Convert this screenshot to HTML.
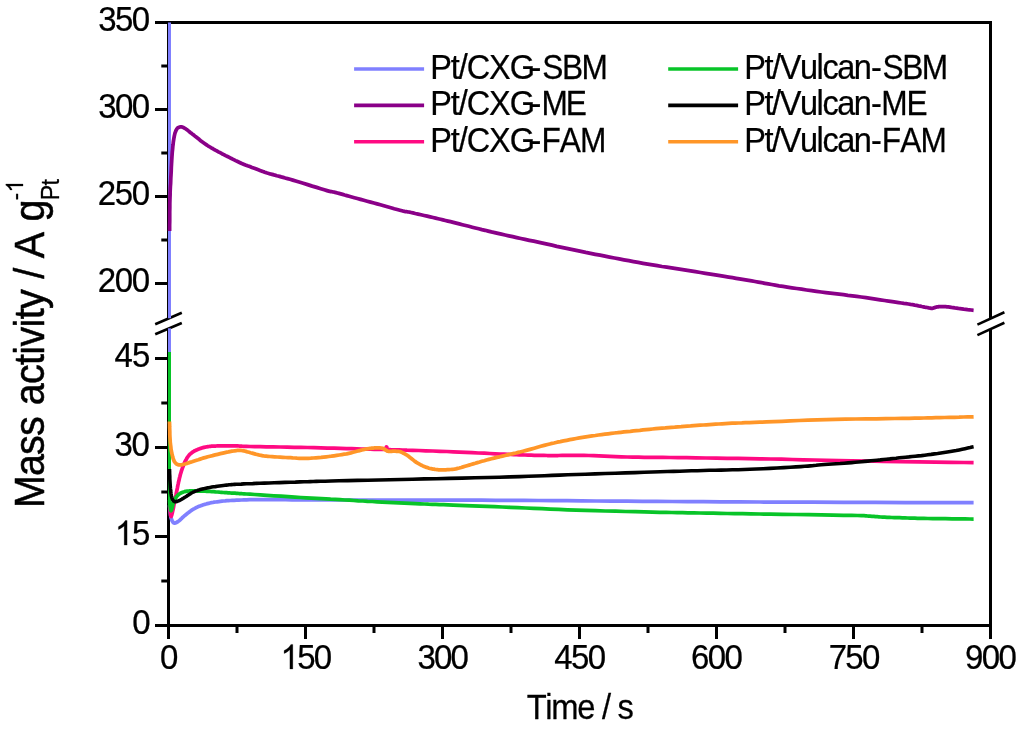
<!DOCTYPE html>
<html><head><meta charset="utf-8"><title>Chart</title>
<style>
html,body{margin:0;padding:0;background:#fff;}
body{width:1024px;height:732px;overflow:hidden;font-family:"Liberation Sans",sans-serif;}
svg{display:block;will-change:transform;}
</style></head><body>
<svg width="1024" height="732" viewBox="0 0 1024 732">
<rect x="0" y="0" width="1024" height="732" fill="#fff"/>
<line x1="155.00" y1="22.50" x2="992.00" y2="22.50" stroke="#000" stroke-width="3.00" stroke-linecap="butt"/>
<line x1="155.00" y1="625.50" x2="992.00" y2="625.50" stroke="#000" stroke-width="3.00" stroke-linecap="butt"/>
<line x1="168.50" y1="21.00" x2="168.50" y2="318.60" stroke="#000" stroke-width="3.00" stroke-linecap="butt"/>
<line x1="168.50" y1="328.40" x2="168.50" y2="639.00" stroke="#000" stroke-width="3.00" stroke-linecap="butt"/>
<line x1="990.50" y1="21.00" x2="990.50" y2="318.80" stroke="#000" stroke-width="3.00" stroke-linecap="butt"/>
<line x1="990.50" y1="328.90" x2="990.50" y2="639.00" stroke="#000" stroke-width="3.00" stroke-linecap="butt"/>
<line x1="155.00" y1="109.50" x2="168.50" y2="109.50" stroke="#000" stroke-width="3.00" stroke-linecap="butt"/>
<line x1="155.00" y1="196.50" x2="168.50" y2="196.50" stroke="#000" stroke-width="3.00" stroke-linecap="butt"/>
<line x1="155.00" y1="283.50" x2="168.50" y2="283.50" stroke="#000" stroke-width="3.00" stroke-linecap="butt"/>
<line x1="155.00" y1="358.50" x2="168.50" y2="358.50" stroke="#000" stroke-width="3.00" stroke-linecap="butt"/>
<line x1="155.00" y1="447.50" x2="168.50" y2="447.50" stroke="#000" stroke-width="3.00" stroke-linecap="butt"/>
<line x1="155.00" y1="536.50" x2="168.50" y2="536.50" stroke="#000" stroke-width="3.00" stroke-linecap="butt"/>
<line x1="161.30" y1="66.00" x2="168.50" y2="66.00" stroke="#000" stroke-width="3.00" stroke-linecap="butt"/>
<line x1="161.30" y1="153.00" x2="168.50" y2="153.00" stroke="#000" stroke-width="3.00" stroke-linecap="butt"/>
<line x1="161.30" y1="240.00" x2="168.50" y2="240.00" stroke="#000" stroke-width="3.00" stroke-linecap="butt"/>
<line x1="161.30" y1="403.00" x2="168.50" y2="403.00" stroke="#000" stroke-width="3.00" stroke-linecap="butt"/>
<line x1="161.30" y1="492.00" x2="168.50" y2="492.00" stroke="#000" stroke-width="3.00" stroke-linecap="butt"/>
<line x1="161.30" y1="581.00" x2="168.50" y2="581.00" stroke="#000" stroke-width="3.00" stroke-linecap="butt"/>
<line x1="305.50" y1="625.50" x2="305.50" y2="639.00" stroke="#000" stroke-width="3.00" stroke-linecap="butt"/>
<line x1="442.50" y1="625.50" x2="442.50" y2="639.00" stroke="#000" stroke-width="3.00" stroke-linecap="butt"/>
<line x1="579.50" y1="625.50" x2="579.50" y2="639.00" stroke="#000" stroke-width="3.00" stroke-linecap="butt"/>
<line x1="716.50" y1="625.50" x2="716.50" y2="639.00" stroke="#000" stroke-width="3.00" stroke-linecap="butt"/>
<line x1="853.50" y1="625.50" x2="853.50" y2="639.00" stroke="#000" stroke-width="3.00" stroke-linecap="butt"/>
<line x1="237.00" y1="625.50" x2="237.00" y2="633.00" stroke="#000" stroke-width="3.00" stroke-linecap="butt"/>
<line x1="374.00" y1="625.50" x2="374.00" y2="633.00" stroke="#000" stroke-width="3.00" stroke-linecap="butt"/>
<line x1="511.00" y1="625.50" x2="511.00" y2="633.00" stroke="#000" stroke-width="3.00" stroke-linecap="butt"/>
<line x1="648.00" y1="625.50" x2="648.00" y2="633.00" stroke="#000" stroke-width="3.00" stroke-linecap="butt"/>
<line x1="785.00" y1="625.50" x2="785.00" y2="633.00" stroke="#000" stroke-width="3.00" stroke-linecap="butt"/>
<line x1="922.00" y1="625.50" x2="922.00" y2="633.00" stroke="#000" stroke-width="3.00" stroke-linecap="butt"/>
<line x1="155.20" y1="324.20" x2="181.80" y2="312.80" stroke="#000" stroke-width="2.60" stroke-linecap="butt"/>
<line x1="155.20" y1="334.20" x2="181.80" y2="323.00" stroke="#000" stroke-width="2.60" stroke-linecap="butt"/>
<line x1="977.40" y1="324.60" x2="1004.40" y2="312.20" stroke="#000" stroke-width="2.60" stroke-linecap="butt"/>
<line x1="977.40" y1="335.10" x2="1004.40" y2="322.80" stroke="#000" stroke-width="2.60" stroke-linecap="butt"/>
<path d="M169.5,22.5 L169.5,318.3" fill="none" stroke="#8080ff" stroke-width="3.00" stroke-linejoin="round" stroke-linecap="butt"/>
<path d="M169.5,328.3 L169.5,506" fill="none" stroke="#8080ff" stroke-width="3.00" stroke-linejoin="round" stroke-linecap="butt"/>
<path d="M169.6,505.0 L169.7,505.6 L169.7,506.5 L169.8,507.5 L169.9,508.6 L170.0,509.8 L170.1,510.9 L170.2,512.0 L170.3,513.0 L170.4,513.9 L170.5,514.8 L170.6,515.6 L170.8,516.4 L170.9,517.2 L171.1,517.9 L171.3,518.6 L171.5,519.3 L171.8,519.9 L172.0,520.6 L172.3,521.2 L172.7,521.7 L173.0,522.2 L173.4,522.6 L173.8,522.9 L174.3,523.1 L174.8,523.1 L175.3,523.0 L175.9,522.8 L176.5,522.5 L177.1,522.1 L177.8,521.6 L178.4,521.2 L179.1,520.7 L179.8,520.2 L180.4,519.6 L181.1,518.9 L181.8,518.3 L182.5,517.5 L183.3,516.8 L184.1,516.1 L184.9,515.4 L185.8,514.7 L186.7,514.0 L187.6,513.2 L188.6,512.5 L189.6,511.7 L190.6,511.0 L191.5,510.3 L192.5,509.7 L193.4,509.1 L194.4,508.6 L195.3,508.1 L196.2,507.6 L197.2,507.2 L198.1,506.7 L199.1,506.3 L200.2,505.9 L201.3,505.5 L202.5,505.1 L203.6,504.7 L204.8,504.3 L206.1,504.0 L207.3,503.6 L208.7,503.3 L210.0,503.0 L211.4,502.7 L212.8,502.5 L214.2,502.2 L215.7,502.0 L217.2,501.8 L218.8,501.6 L220.4,501.4 L222.0,501.2 L223.6,501.0 L225.2,500.9 L226.9,500.7 L228.5,500.6 L230.3,500.5 L232.2,500.4 L234.2,500.3 L236.5,500.2 L238.9,500.1 L241.4,500.0 L243.9,499.9 L246.7,499.8 L249.6,499.7 L252.8,499.7 L256.2,499.6 L260.0,499.6 L263.8,499.6 L267.4,499.6 L271.2,499.6 L275.2,499.6 L279.9,499.7 L285.4,499.7 L292.0,499.8 L300.0,499.8 L309.6,499.8 L320.5,499.9 L332.7,499.9 L345.6,500.0 L359.1,500.1 L372.9,500.1 L386.6,500.2 L400.0,500.2 L413.2,500.2 L426.6,500.2 L440.2,500.2 L453.9,500.2 L467.8,500.2 L481.8,500.2 L495.8,500.3 L510.0,500.3 L524.2,500.4 L538.4,500.5 L552.7,500.6 L567.1,500.7 L581.6,500.8 L596.5,501.0 L611.6,501.1 L627.0,501.2 L642.3,501.3 L657.2,501.4 L672.2,501.5 L687.5,501.6 L703.5,501.7 L720.7,501.8 L739.4,501.9 L760.0,502.0 L784.3,502.1 L812.7,502.2 L843.6,502.3 L875.1,502.4 L905.6,502.5 L933.3,502.6 L956.6,502.6 L973.6,502.7" fill="none" stroke="#8080ff" stroke-width="3.75" stroke-linejoin="round" stroke-linecap="butt"/>
<path d="M169.6,231.0 L169.6,228.5 L169.6,225.1 L169.7,221.1 L169.7,216.7 L169.7,212.1 L169.8,207.6 L169.8,203.5 L169.9,200.0 L170.0,197.1 L170.1,194.6 L170.1,192.3 L170.2,190.2 L170.3,188.2 L170.4,186.0 L170.6,183.7 L170.7,181.0 L170.8,178.0 L171.0,174.7 L171.2,171.2 L171.3,167.6 L171.5,164.1 L171.7,160.6 L171.9,157.4 L172.1,154.4 L172.3,151.7 L172.6,149.1 L172.8,146.6 L173.1,144.3 L173.3,142.1 L173.6,140.1 L173.9,138.3 L174.2,136.6 L174.5,135.1 L174.8,133.8 L175.1,132.7 L175.5,131.8 L175.8,130.9 L176.2,130.2 L176.5,129.5 L176.9,128.9 L177.3,128.4 L177.7,127.9 L178.2,127.6 L178.6,127.4 L179.1,127.2 L179.5,127.1 L180.0,127.0 L180.4,126.9 L180.8,126.9 L181.2,126.9 L181.6,126.9 L182.0,127.0 L182.4,127.1 L182.7,127.3 L183.1,127.4 L183.5,127.6 L183.8,127.7 L184.1,127.9 L184.4,128.0 L184.7,128.2 L185.0,128.4 L185.4,128.6 L185.9,129.0 L186.6,129.5 L187.4,130.1 L188.4,130.9 L189.4,131.7 L190.6,132.7 L191.8,133.6 L193.0,134.6 L194.3,135.6 L195.5,136.6 L196.8,137.6 L198.1,138.6 L199.4,139.6 L200.7,140.7 L202.1,141.7 L203.5,142.7 L204.9,143.7 L206.2,144.6 L207.5,145.5 L208.8,146.3 L210.0,147.0 L211.3,147.8 L212.6,148.5 L213.9,149.3 L215.3,150.1 L216.8,150.9 L218.4,151.8 L220.1,152.7 L221.9,153.7 L223.8,154.6 L225.6,155.6 L227.5,156.5 L229.3,157.4 L231.0,158.3 L232.6,159.1 L234.2,159.9 L235.6,160.6 L237.1,161.3 L238.6,162.0 L240.1,162.7 L241.8,163.5 L243.5,164.2 L245.4,165.0 L247.5,165.8 L249.8,166.6 L252.0,167.5 L254.3,168.3 L256.4,169.1 L258.3,169.8 L260.0,170.4 L261.4,170.9 L262.7,171.4 L263.8,171.8 L264.7,172.2 L265.6,172.5 L266.4,172.8 L267.2,173.0 L268.0,173.3 L268.8,173.5 L269.4,173.7 L270.1,173.9 L270.6,174.0 L271.2,174.2 L271.7,174.3 L272.3,174.4 L272.9,174.6 L273.4,174.7 L273.9,174.9 L274.2,175.0 L274.6,175.1 L275.2,175.2 L275.8,175.4 L276.8,175.7 L278.0,176.0 L279.5,176.4 L281.2,176.9 L283.1,177.4 L285.2,178.0 L287.5,178.6 L290.0,179.3 L292.8,180.1 L295.7,181.0 L299.1,182.0 L303.2,183.3 L307.6,184.6 L312.2,186.1 L316.6,187.4 L320.8,188.7 L324.3,189.8 L327.0,190.6 L328.8,191.1 L330.0,191.5 L330.6,191.6 L330.8,191.6 L330.8,191.6 L330.8,191.6 L330.9,191.5 L331.3,191.6 L331.8,191.7 L332.2,191.8 L332.5,191.8 L332.9,191.9 L333.4,192.0 L334.0,192.1 L334.9,192.3 L336.0,192.6 L337.4,193.0 L338.9,193.4 L340.7,193.9 L342.6,194.4 L344.6,195.0 L346.8,195.6 L349.2,196.3 L351.7,197.0 L354.4,197.7 L357.4,198.5 L360.5,199.4 L363.8,200.3 L367.2,201.2 L370.6,202.1 L373.9,203.0 L377.1,203.9 L380.4,204.8 L383.8,205.8 L387.4,206.8 L390.9,207.7 L394.2,208.7 L397.2,209.5 L399.9,210.2 L402.0,210.8 L403.5,211.2 L404.5,211.4 L405.1,211.5 L405.4,211.6 L405.6,211.6 L405.7,211.5 L405.9,211.5 L406.3,211.6 L406.8,211.7 L407.0,211.7 L407.3,211.8 L407.5,211.8 L408.0,211.9 L408.6,212.0 L409.6,212.2 L411.0,212.5 L412.9,212.9 L415.3,213.5 L418.1,214.1 L421.0,214.8 L424.1,215.5 L427.2,216.2 L430.2,216.9 L433.0,217.5 L435.6,218.1 L438.1,218.7 L440.5,219.3 L442.9,219.9 L445.4,220.5 L447.9,221.1 L450.5,221.7 L453.3,222.4 L456.2,223.1 L459.3,223.9 L462.4,224.7 L465.6,225.5 L468.9,226.3 L472.2,227.2 L475.4,228.0 L478.7,228.8 L481.9,229.6 L485.1,230.3 L488.2,231.1 L491.4,231.9 L494.6,232.6 L497.9,233.4 L501.4,234.2 L505.0,235.0 L508.8,235.8 L512.7,236.7 L516.7,237.6 L520.8,238.5 L525.0,239.4 L529.3,240.3 L533.7,241.2 L538.1,242.2 L542.6,243.2 L547.3,244.2 L552.0,245.2 L556.8,246.3 L561.7,247.3 L566.6,248.4 L571.4,249.4 L576.2,250.4 L581.0,251.4 L585.7,252.4 L590.5,253.3 L595.3,254.3 L600.1,255.2 L604.9,256.2 L609.6,257.1 L614.4,258.0 L619.2,258.9 L623.9,259.8 L628.7,260.7 L633.5,261.6 L638.2,262.4 L643.0,263.3 L647.7,264.1 L652.5,264.9 L657.3,265.7 L662.0,266.5 L666.8,267.2 L671.5,267.9 L676.3,268.7 L681.1,269.4 L685.8,270.1 L690.6,270.9 L695.4,271.7 L700.4,272.5 L705.4,273.3 L710.4,274.1 L715.3,274.9 L720.0,275.7 L724.5,276.4 L728.7,277.1 L732.5,277.7 L736.1,278.3 L739.4,278.9 L742.5,279.4 L745.5,279.9 L748.6,280.4 L751.7,280.9 L755.0,281.5 L758.3,282.1 L761.6,282.7 L764.9,283.3 L768.3,283.9 L771.7,284.5 L775.2,285.1 L779.0,285.8 L783.0,286.4 L787.3,287.1 L791.9,287.8 L796.7,288.5 L801.6,289.2 L806.6,290.0 L811.6,290.7 L816.5,291.4 L821.2,292.0 L825.8,292.6 L830.3,293.2 L834.7,293.7 L839.1,294.2 L843.5,294.7 L847.9,295.3 L852.3,295.8 L856.7,296.4 L861.2,297.0 L866.0,297.7 L870.7,298.4 L875.5,299.1 L880.1,299.8 L884.5,300.5 L888.6,301.1 L892.3,301.7 L895.6,302.2 L898.6,302.6 L901.3,303.0 L903.8,303.4 L906.2,303.7 L908.4,304.0 L910.5,304.4 L912.6,304.7 L914.7,305.1 L916.6,305.4 L918.5,305.8 L920.2,306.1 L921.8,306.5 L923.4,306.8 L924.7,307.1 L926.0,307.3 L927.1,307.5 L928.0,307.7 L928.8,307.9 L929.4,308.0 L930.0,308.1 L930.6,308.2 L931.1,308.3 L931.7,308.3 L932.3,308.3 L932.9,308.2 L933.5,308.0 L934.0,307.8 L934.5,307.7 L935.0,307.5 L935.5,307.3 L936.0,307.2 L936.4,307.1 L936.8,307.0 L937.1,306.9 L937.4,306.9 L937.8,306.8 L938.2,306.8 L938.7,306.7 L939.3,306.7 L940.0,306.7 L940.8,306.6 L941.6,306.6 L942.5,306.6 L943.5,306.6 L944.5,306.6 L945.7,306.7 L946.9,306.8 L948.3,306.9 L949.8,307.1 L951.4,307.4 L953.1,307.6 L954.8,307.9 L956.6,308.1 L958.3,308.4 L960.0,308.6 L961.8,308.8 L963.7,309.1 L965.7,309.3 L967.6,309.6 L969.5,309.8 L971.1,310.0 L972.5,310.2 L973.6,310.3" fill="none" stroke="#8a0088" stroke-width="3.75" stroke-linejoin="round" stroke-linecap="butt"/>
<path d="M170.0,504.0 L170.0,504.6 L170.1,505.5 L170.1,506.6 L170.2,507.7 L170.2,508.9 L170.3,510.1 L170.3,511.1 L170.4,512.0 L170.5,512.8 L170.5,513.5 L170.6,514.2 L170.7,514.8 L170.7,515.4 L170.8,515.9 L170.9,516.2 L171.0,516.4 L171.1,516.5 L171.2,516.4 L171.3,516.2 L171.4,515.9 L171.6,515.5 L171.7,515.0 L171.9,514.5 L172.0,514.0 L172.2,513.4 L172.3,512.8 L172.5,512.1 L172.6,511.4 L172.8,510.5 L173.0,509.7 L173.2,508.8 L173.4,507.8 L173.6,506.8 L173.8,505.7 L174.0,504.7 L174.3,503.5 L174.5,502.3 L174.7,501.0 L175.0,499.6 L175.3,498.2 L175.6,496.6 L176.0,494.9 L176.3,493.1 L176.7,491.2 L177.1,489.3 L177.5,487.4 L177.8,485.6 L178.2,483.9 L178.5,482.3 L178.9,480.8 L179.2,479.3 L179.5,477.9 L179.9,476.5 L180.2,475.1 L180.6,473.8 L181.0,472.4 L181.4,471.0 L181.9,469.6 L182.4,468.2 L182.9,466.8 L183.4,465.5 L183.9,464.2 L184.4,463.0 L184.9,461.9 L185.4,460.9 L185.9,460.0 L186.4,459.1 L186.8,458.3 L187.3,457.5 L187.8,456.8 L188.2,456.2 L188.7,455.6 L189.1,455.1 L189.6,454.6 L190.0,454.2 L190.4,453.8 L190.9,453.5 L191.2,453.2 L191.6,452.9 L192.0,452.6 L192.3,452.3 L192.6,452.1 L192.9,451.9 L193.2,451.7 L193.4,451.5 L193.7,451.4 L194.0,451.2 L194.4,451.0 L194.8,450.8 L195.2,450.6 L195.7,450.4 L196.2,450.1 L196.7,449.9 L197.2,449.7 L197.7,449.5 L198.2,449.3 L198.7,449.1 L199.1,448.9 L199.6,448.7 L200.1,448.6 L200.6,448.4 L201.1,448.2 L201.6,448.1 L202.1,447.9 L202.7,447.7 L203.2,447.6 L203.8,447.4 L204.4,447.3 L205.0,447.2 L205.6,447.0 L206.3,446.9 L207.0,446.8 L207.7,446.7 L208.4,446.6 L209.1,446.5 L209.8,446.4 L210.6,446.3 L211.5,446.2 L212.4,446.2 L213.5,446.1 L214.7,446.0 L216.0,446.0 L217.4,445.9 L218.9,445.9 L220.5,445.9 L222.0,445.8 L223.5,445.8 L225.0,445.8 L226.4,445.8 L227.8,445.8 L229.2,445.8 L230.6,445.8 L232.0,445.8 L233.5,445.8 L235.0,445.9 L236.5,445.9 L237.8,445.9 L238.9,446.0 L239.8,446.1 L240.8,446.1 L242.1,446.2 L244.0,446.3 L246.5,446.4 L250.0,446.5 L254.6,446.6 L260.1,446.7 L266.3,446.8 L273.1,446.9 L280.1,447.0 L287.2,447.1 L294.2,447.3 L300.8,447.4 L307.3,447.5 L314.0,447.7 L320.7,447.9 L327.5,448.1 L334.0,448.2 L340.4,448.4 L346.3,448.6 L351.7,448.7 L356.7,448.8 L361.6,449.0 L366.1,449.1 L370.4,449.2 L374.2,449.3 L377.7,449.3 L380.6,449.4 L383.0,449.4 L384.7,449.4 L385.7,449.3 L386.1,449.2 L386.1,449.1 L385.9,449.0 L385.7,448.9 L385.5,448.8 L385.5,448.6 L385.7,448.4 L385.9,448.2 L386.0,447.9 L386.1,447.6 L386.2,447.3 L386.3,447.1 L386.4,446.9 L386.5,446.9 L386.6,447.0 L386.7,447.1 L386.8,447.4 L386.9,447.7 L387.0,448.0 L387.1,448.3 L387.3,448.6 L387.5,448.8 L387.7,449.0 L387.8,449.1 L387.9,449.2 L388.0,449.4 L388.3,449.5 L388.6,449.5 L389.2,449.6 L390.0,449.7 L390.8,449.8 L391.5,449.8 L392.3,449.8 L393.2,449.8 L394.6,449.8 L396.4,449.8 L399.0,449.9 L402.5,450.0 L407.0,450.2 L412.6,450.3 L418.9,450.5 L425.8,450.8 L432.9,451.0 L440.0,451.3 L446.9,451.5 L453.3,451.8 L459.5,452.1 L465.8,452.4 L472.1,452.6 L478.3,453.0 L484.3,453.2 L489.9,453.5 L495.2,453.8 L500.0,454.0 L504.2,454.2 L507.8,454.3 L510.9,454.5 L513.8,454.6 L516.5,454.7 L519.2,454.8 L522.0,454.9 L525.0,455.0 L528.1,455.1 L531.2,455.2 L534.3,455.3 L537.4,455.3 L540.6,455.4 L543.8,455.4 L547.2,455.5 L550.8,455.5 L554.5,455.5 L558.3,455.5 L562.2,455.4 L566.3,455.4 L570.4,455.3 L574.7,455.3 L579.2,455.3 L583.9,455.4 L588.8,455.5 L593.8,455.7 L599.0,455.9 L604.4,456.2 L609.9,456.4 L615.5,456.6 L621.3,456.8 L627.1,457.0 L632.9,457.1 L638.5,457.2 L644.2,457.3 L650.1,457.3 L656.2,457.4 L662.8,457.4 L670.0,457.5 L677.9,457.6 L686.6,457.7 L696.0,457.8 L706.0,458.0 L716.4,458.1 L727.1,458.3 L738.1,458.4 L749.1,458.6 L760.0,458.8 L770.8,459.0 L781.5,459.2 L792.4,459.5 L803.4,459.8 L814.7,460.0 L826.4,460.3 L838.7,460.6 L851.7,460.8 L866.3,461.0 L882.9,461.3 L900.6,461.6 L918.4,461.8 L935.5,462.1 L951.0,462.3 L964.0,462.5 L973.6,462.6" fill="none" stroke="#ff0a82" stroke-width="3.75" stroke-linejoin="round" stroke-linecap="butt"/>
<path d="M169.5,352 L169.5,503" fill="none" stroke="#08c428" stroke-width="3.00" stroke-linejoin="round" stroke-linecap="butt"/>
<path d="M169.6,500.0 L169.6,500.6 L169.7,501.3 L169.7,502.3 L169.8,503.3 L169.9,504.3 L170.0,505.3 L170.1,506.2 L170.2,507.0 L170.3,507.7 L170.4,508.3 L170.5,509.0 L170.6,509.5 L170.7,510.0 L170.8,510.4 L170.9,510.6 L171.0,510.7 L171.1,510.6 L171.3,510.4 L171.4,510.0 L171.6,509.5 L171.7,508.9 L171.9,508.3 L172.1,507.7 L172.3,507.0 L172.5,506.3 L172.7,505.5 L172.9,504.6 L173.1,503.7 L173.4,502.8 L173.7,501.9 L174.0,501.0 L174.3,500.2 L174.7,499.4 L175.1,498.7 L175.6,498.0 L176.1,497.3 L176.6,496.6 L177.1,496.0 L177.7,495.4 L178.2,494.9 L178.7,494.4 L179.3,494.0 L179.9,493.6 L180.4,493.3 L181.0,493.0 L181.6,492.7 L182.3,492.4 L182.9,492.2 L183.5,492.0 L184.2,491.8 L184.8,491.6 L185.5,491.4 L186.2,491.3 L187.0,491.2 L187.8,491.1 L188.7,491.0 L189.7,490.9 L190.8,490.9 L191.9,490.9 L193.1,490.9 L194.3,490.9 L195.6,490.9 L196.9,491.0 L198.2,491.0 L199.5,491.0 L200.9,491.1 L202.3,491.1 L203.8,491.2 L205.2,491.2 L206.8,491.3 L208.4,491.4 L210.0,491.5 L211.7,491.6 L213.6,491.7 L215.5,491.9 L217.5,492.0 L219.5,492.2 L221.4,492.3 L223.3,492.5 L225.0,492.6 L226.6,492.7 L228.1,492.8 L229.5,492.9 L230.8,493.0 L232.2,493.0 L233.6,493.1 L235.0,493.2 L236.5,493.3 L237.8,493.4 L238.9,493.5 L239.8,493.5 L240.8,493.6 L242.1,493.7 L244.0,493.8 L246.5,494.0 L250.0,494.2 L254.6,494.5 L260.3,494.9 L266.8,495.3 L273.8,495.8 L281.0,496.2 L288.0,496.7 L294.8,497.1 L300.8,497.5 L306.3,497.8 L311.5,498.1 L316.4,498.4 L321.3,498.7 L326.0,498.9 L330.6,499.2 L335.3,499.4 L340.0,499.7 L344.7,500.0 L349.3,500.2 L353.8,500.5 L358.3,500.8 L362.9,501.0 L367.5,501.3 L372.2,501.5 L377.1,501.8 L382.3,502.1 L387.6,502.3 L393.2,502.6 L398.8,502.9 L404.4,503.1 L409.8,503.4 L415.1,503.6 L420.0,503.8 L424.5,504.0 L428.5,504.2 L432.2,504.3 L435.8,504.4 L439.5,504.6 L443.6,504.7 L448.1,504.9 L453.3,505.1 L459.2,505.3 L465.6,505.6 L472.4,505.8 L479.6,506.1 L487.0,506.4 L494.6,506.7 L502.3,507.0 L510.0,507.3 L517.8,507.6 L525.6,508.0 L533.7,508.3 L541.9,508.7 L550.2,509.1 L558.7,509.4 L567.4,509.8 L576.2,510.1 L585.5,510.4 L595.2,510.7 L605.3,511.0 L615.5,511.2 L625.6,511.5 L635.2,511.7 L644.3,511.9 L652.5,512.1 L659.7,512.3 L666.1,512.4 L671.9,512.5 L677.3,512.6 L682.5,512.7 L687.9,512.8 L693.7,512.9 L700.0,513.0 L706.7,513.1 L713.4,513.2 L720.2,513.4 L727.2,513.5 L734.6,513.6 L742.5,513.7 L750.9,513.9 L760.0,514.0 L770.4,514.2 L782.4,514.3 L795.3,514.5 L808.5,514.7 L821.3,514.9 L833.2,515.1 L843.5,515.3 L851.7,515.4 L857.5,515.5 L861.5,515.6 L864.1,515.7 L865.7,515.8 L866.6,515.9 L867.4,516.0 L868.4,516.1 L870.0,516.2 L872.0,516.3 L873.8,516.4 L875.5,516.6 L877.2,516.7 L878.9,516.8 L880.7,517.0 L882.6,517.1 L884.7,517.2 L887.0,517.3 L889.3,517.4 L891.8,517.5 L894.3,517.6 L897.0,517.7 L899.6,517.7 L902.3,517.8 L905.0,517.9 L907.6,518.0 L910.0,518.1 L912.4,518.1 L914.9,518.2 L917.5,518.3 L920.5,518.4 L923.9,518.4 L927.9,518.5 L932.8,518.6 L938.8,518.6 L945.4,518.7 L952.2,518.8 L958.8,518.9 L964.9,518.9 L969.9,519.0 L973.6,519.0" fill="none" stroke="#08c428" stroke-width="3.75" stroke-linejoin="round" stroke-linecap="butt"/>
<path d="M169.5,469.0 L169.5,470.0 L169.6,471.4 L169.6,473.0 L169.7,474.8 L169.8,476.7 L169.8,478.6 L169.9,480.4 L170.0,482.0 L170.1,483.5 L170.2,485.1 L170.3,486.7 L170.4,488.2 L170.6,489.7 L170.7,491.1 L170.9,492.4 L171.0,493.5 L171.2,494.5 L171.3,495.4 L171.5,496.2 L171.7,496.9 L171.8,497.6 L172.0,498.2 L172.2,498.7 L172.4,499.2 L172.6,499.6 L172.8,500.0 L173.0,500.3 L173.2,500.5 L173.4,500.7 L173.6,500.9 L173.8,501.0 L174.0,501.2 L174.2,501.3 L174.4,501.5 L174.5,501.6 L174.7,501.6 L174.9,501.7 L175.1,501.7 L175.3,501.7 L175.6,501.7 L175.9,501.7 L176.3,501.6 L176.7,501.5 L177.1,501.4 L177.5,501.2 L178.0,501.1 L178.5,500.9 L179.1,500.6 L179.7,500.3 L180.3,500.0 L181.0,499.6 L181.7,499.2 L182.5,498.7 L183.3,498.3 L184.1,497.8 L184.9,497.3 L185.8,496.8 L186.7,496.2 L187.6,495.5 L188.6,494.9 L189.6,494.2 L190.6,493.6 L191.5,493.0 L192.5,492.5 L193.4,492.0 L194.4,491.6 L195.3,491.2 L196.2,490.9 L197.2,490.6 L198.1,490.2 L199.1,489.9 L200.2,489.6 L201.3,489.3 L202.4,489.0 L203.5,488.7 L204.6,488.5 L205.9,488.2 L207.1,487.9 L208.5,487.7 L210.0,487.4 L211.7,487.1 L213.5,486.8 L215.4,486.6 L217.4,486.3 L219.4,486.0 L221.4,485.7 L223.3,485.5 L225.0,485.3 L226.5,485.1 L227.8,485.0 L229.0,484.8 L230.2,484.7 L231.5,484.6 L232.9,484.5 L234.5,484.4 L236.5,484.3 L238.8,484.2 L241.1,484.1 L243.7,483.9 L246.5,483.8 L249.5,483.7 L252.7,483.6 L256.2,483.4 L260.0,483.3 L264.3,483.1 L269.0,483.0 L274.2,482.8 L279.5,482.6 L284.9,482.4 L290.2,482.2 L295.3,482.1 L300.0,481.9 L304.0,481.8 L307.3,481.7 L310.2,481.6 L313.1,481.5 L316.3,481.4 L320.2,481.3 L325.1,481.2 L331.3,481.0 L339.0,480.8 L347.7,480.6 L357.4,480.4 L367.8,480.2 L378.7,480.0 L390.0,479.7 L401.3,479.5 L412.6,479.2 L424.2,478.9 L436.5,478.7 L449.3,478.4 L462.2,478.1 L475.1,477.8 L487.5,477.5 L499.2,477.2 L510.0,476.9 L519.7,476.6 L528.5,476.3 L536.7,476.0 L544.4,475.7 L552.0,475.4 L559.7,475.1 L567.7,474.8 L576.2,474.5 L585.4,474.2 L595.2,473.9 L605.2,473.5 L615.3,473.2 L625.3,472.9 L635.0,472.6 L644.1,472.3 L652.5,472.0 L660.1,471.8 L667.1,471.5 L673.6,471.4 L679.7,471.2 L685.7,471.0 L691.5,470.8 L697.3,470.7 L703.3,470.5 L709.3,470.3 L715.2,470.2 L720.9,470.1 L726.6,470.0 L732.4,469.8 L738.1,469.7 L744.0,469.5 L750.0,469.3 L756.4,469.0 L763.1,468.7 L770.1,468.4 L777.0,468.0 L783.8,467.6 L790.1,467.2 L795.9,466.9 L800.8,466.6 L804.7,466.3 L807.8,466.1 L810.2,465.9 L812.3,465.7 L814.1,465.5 L816.1,465.3 L818.4,465.0 L821.2,464.8 L824.6,464.5 L828.2,464.3 L832.1,464.0 L836.1,463.7 L840.2,463.5 L844.2,463.2 L848.1,462.9 L851.7,462.6 L855.1,462.3 L858.4,462.0 L861.6,461.7 L864.7,461.4 L867.8,461.1 L870.9,460.8 L874.0,460.5 L877.1,460.2 L880.3,459.9 L883.5,459.5 L886.6,459.2 L889.8,458.9 L893.0,458.5 L896.1,458.2 L899.3,457.8 L902.5,457.5 L905.7,457.2 L908.9,456.9 L912.0,456.5 L915.2,456.2 L918.4,455.9 L921.5,455.6 L924.7,455.2 L927.9,454.8 L931.1,454.4 L934.4,453.9 L937.6,453.5 L940.9,453.0 L944.1,452.5 L947.3,452.0 L950.4,451.5 L953.3,451.0 L956.2,450.5 L959.2,449.9 L962.2,449.3 L965.0,448.7 L967.7,448.1 L970.1,447.6 L972.1,447.1 L973.6,446.8" fill="none" stroke="#000" stroke-width="3.60" stroke-linejoin="round" stroke-linecap="butt"/>
<path d="M169.5,421.5 L169.5,422.8 L169.6,424.7 L169.6,426.9 L169.7,429.4 L169.8,431.9 L169.8,434.3 L169.9,436.4 L170.0,438.2 L170.1,439.6 L170.2,440.8 L170.2,441.9 L170.3,442.8 L170.4,443.6 L170.5,444.4 L170.6,445.2 L170.7,446.0 L170.8,446.8 L170.9,447.5 L170.9,448.2 L171.0,448.8 L171.1,449.4 L171.2,450.1 L171.3,450.8 L171.5,451.6 L171.7,452.5 L171.9,453.5 L172.1,454.5 L172.4,455.6 L172.6,456.6 L172.9,457.6 L173.1,458.5 L173.4,459.3 L173.7,460.0 L173.9,460.6 L174.2,461.2 L174.5,461.7 L174.8,462.1 L175.1,462.6 L175.5,462.9 L175.8,463.3 L176.2,463.6 L176.5,463.9 L176.9,464.2 L177.3,464.4 L177.7,464.6 L178.1,464.7 L178.6,464.8 L179.1,464.9 L179.6,464.9 L180.1,465.0 L180.6,464.9 L181.1,464.9 L181.7,464.8 L182.3,464.7 L183.1,464.5 L183.9,464.3 L184.8,464.0 L185.9,463.7 L186.9,463.4 L188.1,463.0 L189.3,462.6 L190.7,462.1 L192.0,461.7 L193.5,461.2 L195.0,460.7 L196.6,460.2 L198.3,459.7 L200.1,459.1 L201.9,458.5 L203.8,457.9 L205.8,457.4 L207.8,456.8 L210.0,456.2 L212.5,455.6 L215.1,454.9 L217.7,454.3 L220.3,453.7 L222.8,453.1 L225.0,452.6 L226.9,452.2 L228.5,451.9 L229.8,451.6 L230.9,451.4 L231.9,451.2 L232.7,451.1 L233.5,451.0 L234.2,450.9 L235.0,450.8 L235.7,450.7 L236.3,450.6 L236.9,450.5 L237.4,450.4 L237.8,450.4 L238.3,450.3 L238.8,450.3 L239.3,450.3 L239.9,450.3 L240.5,450.4 L241.1,450.4 L241.7,450.5 L242.3,450.6 L242.9,450.7 L243.4,450.8 L244.0,450.9 L244.5,451.0 L244.9,451.1 L245.2,451.2 L245.5,451.3 L245.9,451.4 L246.5,451.6 L247.1,451.8 L248.0,452.0 L249.1,452.3 L250.5,452.7 L252.1,453.1 L253.8,453.6 L255.5,454.1 L257.1,454.5 L258.6,454.9 L260.0,455.2 L261.1,455.4 L262.0,455.6 L262.7,455.8 L263.4,455.9 L264.1,456.0 L265.1,456.1 L266.3,456.2 L267.8,456.3 L269.8,456.5 L272.1,456.6 L274.6,456.8 L277.3,457.0 L280.1,457.1 L282.9,457.3 L285.6,457.5 L288.1,457.6 L290.4,457.7 L292.7,457.9 L294.8,458.0 L297.0,458.2 L299.2,458.3 L301.3,458.4 L303.6,458.4 L305.9,458.4 L308.3,458.3 L310.8,458.2 L313.3,458.0 L315.9,457.8 L318.5,457.6 L321.1,457.4 L323.6,457.1 L326.2,456.8 L328.8,456.5 L331.4,456.2 L334.1,455.8 L336.7,455.4 L339.3,455.0 L341.9,454.6 L344.3,454.2 L346.6,453.8 L348.8,453.3 L350.9,452.9 L353.0,452.3 L355.0,451.8 L356.8,451.3 L358.6,450.8 L360.3,450.4 L361.8,450.0 L363.2,449.7 L364.4,449.4 L365.5,449.2 L366.5,449.0 L367.4,448.8 L368.3,448.7 L369.1,448.5 L370.0,448.4 L370.9,448.3 L371.7,448.2 L372.4,448.1 L373.1,448.0 L373.8,448.0 L374.5,447.9 L375.3,447.9 L376.0,447.9 L376.8,447.9 L377.6,447.9 L378.4,447.9 L379.2,447.9 L380.0,447.9 L380.7,448.0 L381.4,448.1 L382.1,448.2 L382.7,448.4 L383.3,448.6 L383.8,448.9 L384.3,449.1 L384.7,449.4 L385.2,449.7 L385.6,450.0 L386.0,450.2 L386.4,450.4 L386.7,450.6 L386.9,450.8 L387.1,450.9 L387.4,451.1 L387.7,451.2 L388.1,451.3 L388.5,451.4 L389.0,451.4 L389.7,451.4 L390.3,451.4 L391.0,451.3 L391.8,451.3 L392.5,451.2 L393.3,451.2 L394.0,451.2 L394.7,451.2 L395.5,451.2 L396.3,451.3 L397.1,451.3 L397.9,451.4 L398.6,451.4 L399.3,451.5 L399.9,451.6 L400.4,451.7 L400.8,451.9 L401.2,452.0 L401.5,452.2 L401.9,452.3 L402.2,452.5 L402.6,452.8 L403.0,453.0 L403.5,453.2 L403.9,453.4 L404.4,453.7 L404.9,453.9 L405.4,454.2 L406.0,454.6 L406.8,455.0 L407.6,455.6 L408.6,456.3 L409.7,457.2 L411.0,458.2 L412.3,459.3 L413.7,460.4 L415.0,461.4 L416.4,462.4 L417.7,463.2 L419.0,463.9 L420.3,464.6 L421.6,465.3 L422.9,465.9 L424.2,466.4 L425.5,466.9 L426.7,467.4 L427.9,467.8 L429.0,468.2 L430.1,468.5 L431.1,468.7 L432.1,468.9 L433.1,469.1 L434.1,469.2 L435.0,469.4 L436.0,469.5 L436.9,469.6 L437.7,469.7 L438.5,469.8 L439.3,469.9 L440.1,469.9 L441.0,469.9 L442.0,469.9 L443.1,469.9 L444.4,469.9 L445.8,469.8 L447.3,469.7 L448.9,469.6 L450.6,469.5 L452.3,469.3 L454.0,469.1 L455.8,468.8 L457.6,468.4 L459.4,468.0 L461.2,467.5 L463.1,466.9 L465.1,466.3 L467.0,465.7 L469.1,465.1 L471.1,464.5 L473.2,463.9 L475.3,463.3 L477.4,462.6 L479.6,462.0 L481.9,461.3 L484.2,460.7 L486.5,460.0 L488.9,459.4 L491.4,458.8 L494.1,458.1 L496.8,457.4 L499.6,456.8 L502.4,456.1 L505.0,455.5 L507.6,454.9 L510.0,454.3 L512.1,453.8 L514.0,453.4 L515.8,453.0 L517.4,452.6 L519.1,452.2 L521.0,451.7 L523.0,451.2 L525.4,450.6 L528.1,449.9 L531.0,449.1 L534.2,448.2 L537.5,447.2 L540.8,446.3 L544.2,445.4 L547.6,444.5 L550.8,443.7 L554.0,443.0 L557.1,442.2 L560.3,441.6 L563.5,440.9 L566.7,440.3 L569.8,439.7 L573.0,439.1 L576.2,438.5 L579.4,437.9 L582.6,437.4 L585.8,436.9 L589.0,436.4 L592.1,435.9 L595.3,435.5 L598.5,435.0 L601.7,434.6 L604.9,434.2 L608.1,433.8 L611.2,433.4 L614.4,433.0 L617.6,432.7 L620.8,432.3 L623.9,431.9 L627.1,431.6 L630.3,431.3 L633.5,430.9 L636.6,430.6 L639.8,430.3 L643.0,429.9 L646.1,429.6 L649.3,429.3 L652.5,429.0 L655.7,428.7 L658.9,428.4 L662.0,428.1 L665.2,427.9 L668.4,427.6 L671.5,427.3 L674.7,427.1 L677.9,426.8 L681.1,426.6 L684.2,426.3 L687.4,426.1 L690.6,425.9 L693.8,425.6 L696.9,425.4 L700.1,425.2 L703.3,425.0 L706.4,424.8 L709.5,424.6 L712.6,424.4 L715.6,424.2 L718.7,424.0 L721.9,423.8 L725.2,423.6 L728.7,423.4 L732.1,423.2 L735.3,423.1 L738.5,423.0 L741.8,422.9 L745.4,422.7 L749.6,422.6 L754.4,422.4 L760.0,422.2 L766.5,421.9 L773.9,421.6 L781.8,421.3 L790.3,420.9 L799.1,420.5 L808.1,420.2 L817.2,419.9 L826.2,419.6 L835.5,419.4 L845.5,419.2 L855.8,419.0 L866.1,418.9 L876.3,418.8 L885.9,418.6 L894.8,418.5 L902.5,418.4 L909.1,418.3 L914.7,418.2 L919.6,418.1 L923.9,418.0 L927.9,417.9 L931.8,417.8 L935.8,417.7 L940.0,417.6 L944.6,417.5 L949.5,417.4 L954.4,417.3 L959.1,417.2 L963.6,417.0 L967.7,416.9 L971.0,416.9 L973.6,416.8" fill="none" stroke="#ff9628" stroke-width="3.75" stroke-linejoin="round" stroke-linecap="butt"/>
<line x1="354.1" y1="69.0" x2="424.1" y2="69.0" stroke="#8080ff" stroke-width="3.6"/>
<line x1="354.1" y1="105.4" x2="424.1" y2="105.4" stroke="#8a0088" stroke-width="3.6"/>
<line x1="354.1" y1="141.7" x2="424.1" y2="141.7" stroke="#ff0a82" stroke-width="3.6"/>
<line x1="668.2" y1="69.0" x2="738.1" y2="69.0" stroke="#08c428" stroke-width="3.6"/>
<line x1="668.2" y1="105.4" x2="738.1" y2="105.4" stroke="#000" stroke-width="3.6"/>
<line x1="668.2" y1="141.7" x2="738.1" y2="141.7" stroke="#ff9628" stroke-width="3.6"/>
<g font-family="Liberation Sans, sans-serif" fill="#000" style="font-kerning:none">
<g transform="translate(98.27,31.10) scale(0.9400,1)">
<text x="0" y="0" font-size="35.10px" letter-spacing="-1.647px" stroke="#000" stroke-width="0.25" stroke-linejoin="round">350</text>
</g>
<g transform="translate(98.27,118.10) scale(0.9400,1)">
<text x="0" y="0" font-size="35.10px" letter-spacing="-1.647px" stroke="#000" stroke-width="0.25" stroke-linejoin="round">300</text>
</g>
<g transform="translate(97.75,205.10) scale(0.9400,1)">
<text x="0" y="0" font-size="35.10px" letter-spacing="-1.373px" stroke="#000" stroke-width="0.25" stroke-linejoin="round">250</text>
</g>
<g transform="translate(97.75,292.10) scale(0.9400,1)">
<text x="0" y="0" font-size="35.10px" letter-spacing="-1.373px" stroke="#000" stroke-width="0.25" stroke-linejoin="round">200</text>
</g>
<g transform="translate(114.48,367.10) scale(0.9400,1)">
<text x="0" y="0" font-size="35.10px" letter-spacing="-0.794px" stroke="#000" stroke-width="0.25" stroke-linejoin="round">45</text>
</g>
<g transform="translate(114.47,456.10) scale(0.9400,1)">
<text x="0" y="0" font-size="35.10px" letter-spacing="-1.433px" stroke="#000" stroke-width="0.25" stroke-linejoin="round">30</text>
</g>
<g transform="translate(131.98,545.10) scale(0.9400,1)">
<text x="0" y="0" font-size="35.10px" letter-spacing="0.000px" stroke="#000" stroke-width="0.25" stroke-linejoin="round">5</text>
</g>
<g transform="translate(132.22,634.10) scale(0.9400,1)">
<text x="0" y="0" font-size="35.10px" letter-spacing="0.000px" stroke="#000" stroke-width="0.25" stroke-linejoin="round">0</text>
</g>
<g transform="translate(159.92,669.00) scale(0.9400,1)">
<text x="0" y="0" font-size="35.10px" letter-spacing="0.000px" stroke="#000" stroke-width="0.25" stroke-linejoin="round">0</text>
</g>
<g transform="translate(297.27,669.00) scale(0.9400,1)">
<text x="0" y="0" font-size="35.10px" letter-spacing="-2.071px" stroke="#000" stroke-width="0.25" stroke-linejoin="round">50</text>
</g>
<g transform="translate(417.57,669.00) scale(0.9400,1)">
<text x="0" y="0" font-size="35.10px" letter-spacing="-1.966px" stroke="#000" stroke-width="0.25" stroke-linejoin="round">300</text>
</g>
<g transform="translate(554.28,669.00) scale(0.9400,1)">
<text x="0" y="0" font-size="35.10px" letter-spacing="-1.655px" stroke="#000" stroke-width="0.25" stroke-linejoin="round">450</text>
</g>
<g transform="translate(690.95,669.00) scale(0.9400,1)">
<text x="0" y="0" font-size="35.10px" letter-spacing="-1.692px" stroke="#000" stroke-width="0.25" stroke-linejoin="round">600</text>
</g>
<g transform="translate(828.65,669.00) scale(0.9400,1)">
<text x="0" y="0" font-size="35.10px" letter-spacing="-1.745px" stroke="#000" stroke-width="0.25" stroke-linejoin="round">750</text>
</g>
<g transform="translate(965.05,669.00) scale(0.9400,1)">
<text x="0" y="0" font-size="35.10px" letter-spacing="-1.692px" stroke="#000" stroke-width="0.25" stroke-linejoin="round">900</text>
</g>
<g transform="translate(526.69,718.90) scale(0.9350,1)">
<text x="0" y="0" font-size="35.00px" letter-spacing="-1.409px" stroke="#000" stroke-width="0.25" stroke-linejoin="round">Time / s</text>
</g>
<g transform="translate(430.26,78.80) scale(0.9300,1)">
<text x="0" y="0" font-size="35.00px" letter-spacing="-1.195px" stroke="#000" stroke-width="0.25" stroke-linejoin="round">Pt/CXG</text>
</g>
<g transform="translate(530.56,78.80) scale(0.9300,1)">
<text x="0" y="0" font-size="35.00px" letter-spacing="0.000px" stroke="#000" stroke-width="0.25" stroke-linejoin="round">-</text>
</g>
<g transform="translate(542.31,78.80) scale(0.9050,1)">
<text x="0" y="0" font-size="35.00px" letter-spacing="-1.666px" stroke="#000" stroke-width="0.25" stroke-linejoin="round">SBM</text>
</g>
<g transform="translate(430.26,115.30) scale(0.9300,1)">
<text x="0" y="0" font-size="35.00px" letter-spacing="-1.195px" stroke="#000" stroke-width="0.25" stroke-linejoin="round">Pt/CXG</text>
</g>
<g transform="translate(530.56,115.30) scale(0.9300,1)">
<text x="0" y="0" font-size="35.00px" letter-spacing="0.000px" stroke="#000" stroke-width="0.25" stroke-linejoin="round">-</text>
</g>
<g transform="translate(541.43,115.30) scale(0.9050,1)">
<text x="0" y="0" font-size="35.00px" letter-spacing="-2.219px" stroke="#000" stroke-width="0.25" stroke-linejoin="round">ME</text>
</g>
<g transform="translate(430.26,151.90) scale(0.9300,1)">
<text x="0" y="0" font-size="35.00px" letter-spacing="-1.195px" stroke="#000" stroke-width="0.25" stroke-linejoin="round">Pt/CXG</text>
</g>
<g transform="translate(530.56,151.90) scale(0.9300,1)">
<text x="0" y="0" font-size="35.00px" letter-spacing="0.000px" stroke="#000" stroke-width="0.25" stroke-linejoin="round">-</text>
</g>
<g transform="translate(541.43,151.90) scale(0.9050,1)">
<text x="0" y="0" font-size="35.00px" letter-spacing="-1.078px" stroke="#000" stroke-width="0.25" stroke-linejoin="round">FAM</text>
</g>
<g transform="translate(744.26,78.80) scale(0.9300,1)">
<text x="0" y="0" font-size="35.00px" letter-spacing="-1.553px" stroke="#000" stroke-width="0.25" stroke-linejoin="round">Pt/Vulcan</text>
</g>
<g transform="translate(871.06,78.80) scale(0.9300,1)">
<text x="0" y="0" font-size="35.00px" letter-spacing="0.000px" stroke="#000" stroke-width="0.25" stroke-linejoin="round">-</text>
</g>
<g transform="translate(882.61,78.80) scale(0.9050,1)">
<text x="0" y="0" font-size="35.00px" letter-spacing="-1.721px" stroke="#000" stroke-width="0.25" stroke-linejoin="round">SBM</text>
</g>
<g transform="translate(744.26,115.30) scale(0.9300,1)">
<text x="0" y="0" font-size="35.00px" letter-spacing="-1.553px" stroke="#000" stroke-width="0.25" stroke-linejoin="round">Pt/Vulcan</text>
</g>
<g transform="translate(871.06,115.30) scale(0.9300,1)">
<text x="0" y="0" font-size="35.00px" letter-spacing="0.000px" stroke="#000" stroke-width="0.25" stroke-linejoin="round">-</text>
</g>
<g transform="translate(881.33,115.30) scale(0.9050,1)">
<text x="0" y="0" font-size="35.00px" letter-spacing="-1.224px" stroke="#000" stroke-width="0.25" stroke-linejoin="round">ME</text>
</g>
<g transform="translate(744.26,151.90) scale(0.9300,1)">
<text x="0" y="0" font-size="35.00px" letter-spacing="-1.553px" stroke="#000" stroke-width="0.25" stroke-linejoin="round">Pt/Vulcan</text>
</g>
<g transform="translate(871.06,151.90) scale(0.9300,1)">
<text x="0" y="0" font-size="35.00px" letter-spacing="0.000px" stroke="#000" stroke-width="0.25" stroke-linejoin="round">-</text>
</g>
<g transform="translate(881.73,151.90) scale(0.9050,1)">
<text x="0" y="0" font-size="35.00px" letter-spacing="-0.913px" stroke="#000" stroke-width="0.25" stroke-linejoin="round">FAM</text>
</g>
<g transform="translate(43.90,508.08) rotate(-90) scale(0.9170,1)">
<text x="0" y="0" font-size="43.00px" letter-spacing="-0.907px" stroke="#000" stroke-width="0.55" stroke-linejoin="round">Mass</text>
</g>
<g transform="translate(43.90,405.33) rotate(-90) scale(0.9170,1)">
<text x="0" y="0" font-size="43.00px" letter-spacing="-0.697px" stroke="#000" stroke-width="0.55" stroke-linejoin="round">activity</text>
</g>
<g transform="translate(43.90,278.69) rotate(-90) scale(0.9170,1)">
<text x="0" y="0" font-size="43.00px" letter-spacing="0.000px" stroke="#000" stroke-width="0.55" stroke-linejoin="round">/</text>
</g>
<g transform="translate(43.90,258.30) rotate(-90) scale(0.9170,1)">
<text x="0" y="0" font-size="43.00px" letter-spacing="0.000px" stroke="#000" stroke-width="0.55" stroke-linejoin="round">A</text>
</g>
<g transform="translate(43.90,221.62) rotate(-90) scale(0.9170,1)">
<text x="0" y="0" font-size="43.00px" letter-spacing="0.000px" stroke="#000" stroke-width="0.55" stroke-linejoin="round">g</text>
</g>
<g transform="translate(23.00,200.17) rotate(-90) scale(0.9000,1)">
<text x="0" y="0" font-size="24.50px" letter-spacing="0.000px" stroke="#000" stroke-width="0.30" stroke-linejoin="round">-</text>
</g>
<g transform="translate(58.50,200.31) rotate(-90) scale(0.9200,1)">
<text x="0" y="0" font-size="25.20px" letter-spacing="-0.731px" stroke="#000" stroke-width="0.30" stroke-linejoin="round">Pt</text>
</g>
<path transform="translate(114.81,545.10) scale(0.01611,-0.01671)" d="M763 0H583V1147Q518 1085 412.5 1023T223 930V1104Q374 1175 487 1276T647 1472H763V0Z" stroke="#000" stroke-width="14.6" stroke-linejoin="round"/>
<path transform="translate(280.51,669.00) scale(0.01611,-0.01671)" d="M763 0H583V1147Q518 1085 412.5 1023T223 930V1104Q374 1175 487 1276T647 1472H763V0Z" stroke="#000" stroke-width="14.6" stroke-linejoin="round"/>
<path transform="translate(23.00,192.30) rotate(-90) scale(0.01077,-0.01166)" d="M763 0H583V1147Q518 1085 412.5 1023T223 930V1104Q374 1175 487 1276T647 1472H763V0Z" stroke="#000" stroke-width="25.1" stroke-linejoin="round"/>
</g>
</svg>
</body></html>
